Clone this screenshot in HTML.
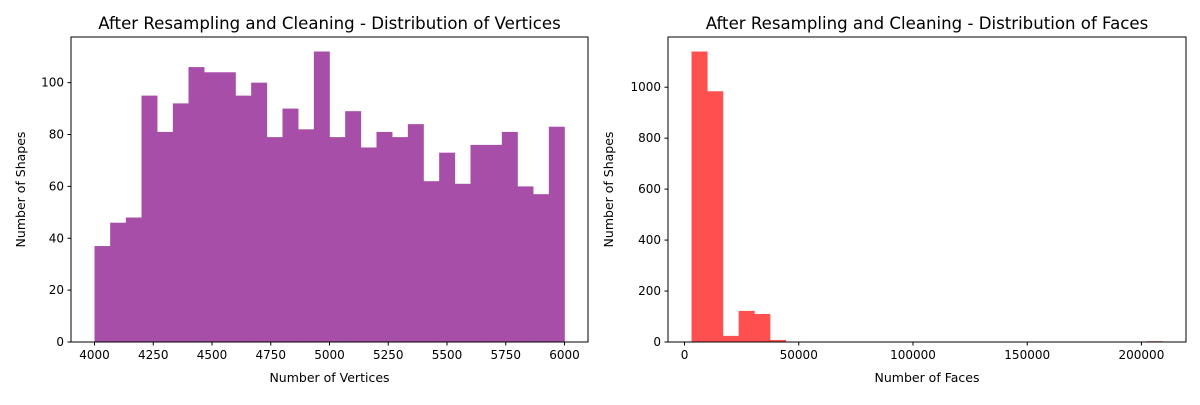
<!DOCTYPE html>
<html><head><meta charset="utf-8"><style>
body{margin:0;background:#fff;font-family:"Liberation Sans","DejaVu Sans",sans-serif;}
svg text{font-family:"DejaVu Sans","Liberation Sans",sans-serif;}
</style></head><body>
<svg id="chart" width="1200" height="400" viewBox="0 0 1200 400" xmlns="http://www.w3.org/2000/svg"></svg>
<script>
const vertCounts=[37,46,48,95,81,92,106,104,104,95,100,79,90,82,112,79,89,75,81,79,84,62,73,61,76,76,81,60,57,83];
const vertRange=[4000,6000];
const vertXTicks=[4000,4250,4500,4750,5000,5250,5500,5750,6000];
const vertYTicks=[0,20,40,60,80,100];
const faceCounts=[1140,984,24,122,110,8,0,0,0,0,0,0,0,0,0,0,0,0,0,0,0,0,0,0,0,0,0,0,0,3];
const faceRange=[3070,209200];
const faceXTicks=[0,50000,100000,150000,200000];
const faceYTicks=[0,200,400,600,800,1000];

const NS="http://www.w3.org/2000/svg";
const svg=document.getElementById('chart');
function el(t,a,p){const e=document.createElementNS(NS,t);for(const k in a)e.setAttribute(k,a[k]);(p||svg).appendChild(e);return e;}

function panel(o){
  const g=el('g',{});
  
  
  const L=o.l,R=o.r,T=37,B=342;
  const span=o.range[1]-o.range[0];
  const x0=o.range[0]-span*0.05,x1=o.range[1]+span*0.05;
  const ymax=Math.max(...o.counts)*1.05;
  const sx=v=>L+(v-x0)/(x1-x0)*(R-L);
  const sy=v=>B-v/ymax*(B-T);
  const bw=span/o.counts.length;
  o.counts.forEach((c,i)=>{
    if(c<=0)return;
    const xa=sx(o.range[0]+i*bw),xb=sx(o.range[0]+(i+1)*bw);
    const r=el('rect',{x:xa,y:sy(c),width:xb-xa+0.3,height:B-sy(c),fill:o.color},g);
    
    
  });
  const fr=el('rect',{x:L,y:T,width:R-L,height:B-T,fill:'none',stroke:'#000','stroke-width':1},g);
  
  
  o.xt.forEach(v=>{
    const x=sx(v);
    el('line',{x1:x,x2:x,y1:B,y2:B+3.5,stroke:'#000'},g);
    const t=el('text',{x:x,y:B+17,'text-anchor':'middle','font-size':12},g);
    t.textContent=v;
    
    
  });
  o.yt.forEach(v=>{
    const y=sy(v);
    el('line',{x1:L,x2:L-3.5,y1:y,y2:y,stroke:'#000'},g);
    const t=el('text',{x:L-7,y:y+4,'text-anchor':'end','font-size':12},g);
    t.textContent=v;
    
    
  });
  const ti=el('text',{x:(L+R)/2,y:29,'text-anchor':'middle','font-size':16.6},g);
  ti.textContent=o.title;
  
  
  const xl=el('text',{x:(L+R)/2,y:382,'text-anchor':'middle','font-size':12.5},g);
  xl.textContent=o.xlabel;
  
  
  const yl=el('text',{x:0,y:0,'text-anchor':'middle','font-size':12.5,transform:`translate(${o.ylx},${(T+B)/2}) rotate(-90)`},g);
  yl.textContent='Number of Shapes';
  
  
}
panel({name:'vertices-histogram',l:71,r:588,counts:vertCounts,range:vertRange,xt:vertXTicks,yt:vertYTicks,color:'#a64ea8',title:'After Resampling and Cleaning - Distribution of Vertices',xlabel:'Number of Vertices',ylx:25});
panel({name:'faces-histogram',l:668,r:1186,counts:faceCounts,range:faceRange,xt:faceXTicks,yt:faceYTicks,color:'#ff4f4f',title:'After Resampling and Cleaning - Distribution of Faces',xlabel:'Number of Faces',ylx:613});
</script>
</body></html>
